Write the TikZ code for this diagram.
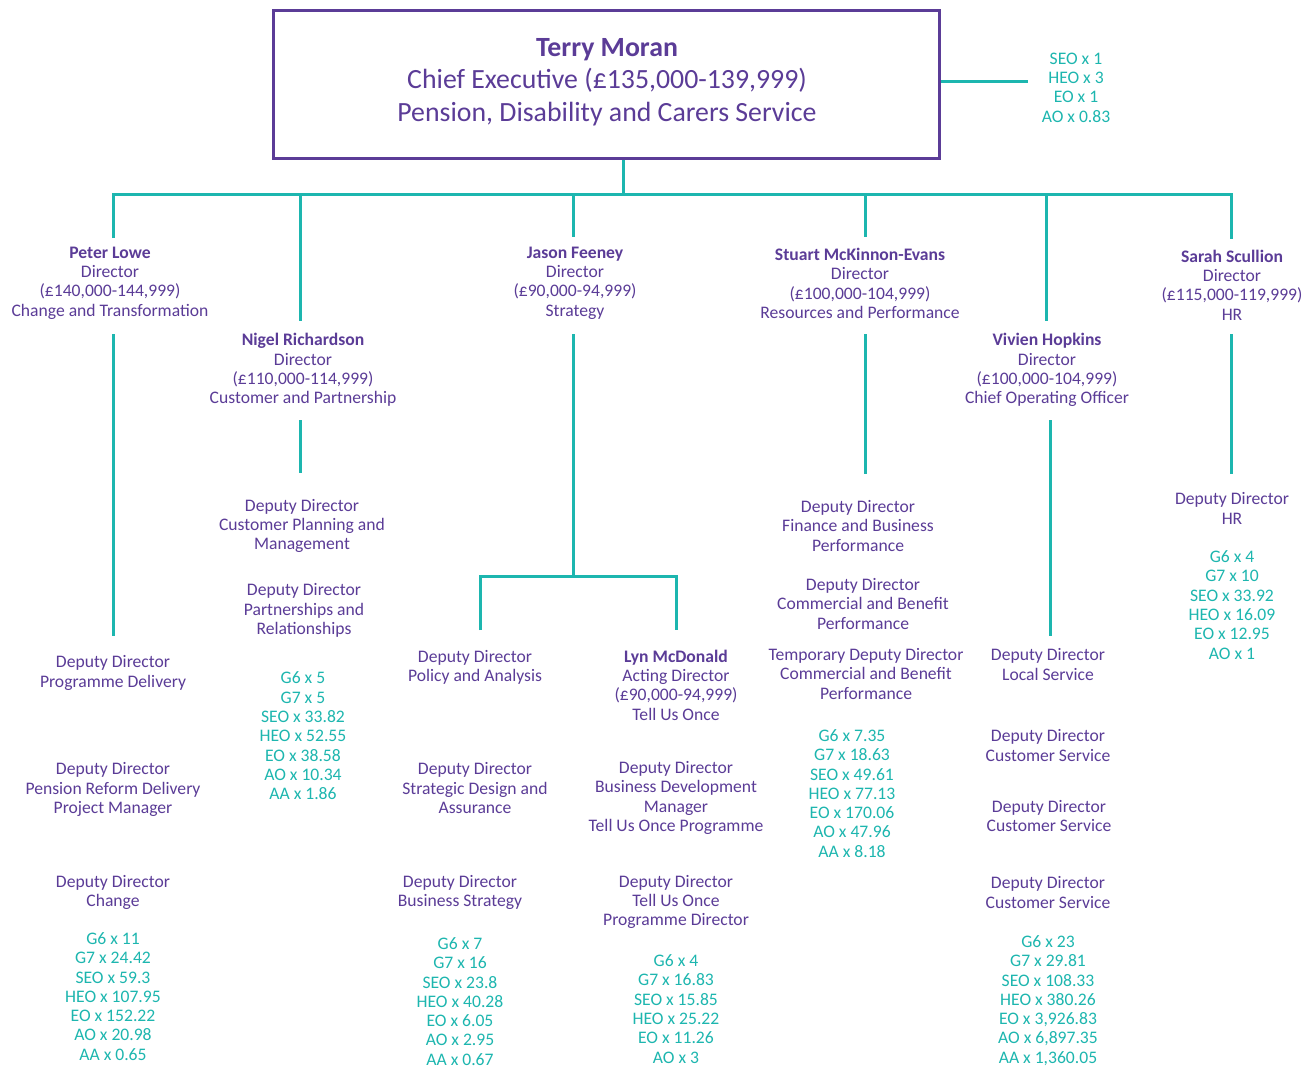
\documentclass[tikz,border=0pt]{standalone}
\usepackage{fontspec}
\setmainfont{Carlito}
\definecolor{dpurple}{HTML}{5B3C97}
\definecolor{dteal}{HTML}{1DB6AF}
\begin{document}
\begin{tikzpicture}[x=1pt,y=-1pt,
  txt/.style={text=dpurple, align=center, inner sep=0pt, yshift=-2pt, font=\fontsize{17.6}{19.3}\selectfont},
  num/.style={text=dteal, align=center, inner sep=0pt, yshift=-2pt, font=\fontsize{17.6}{19.3}\selectfont},
  conn/.style={draw=dteal, line width=3pt},
  ceobox/.style={draw=dpurple, line width=3pt, minimum width=666pt, minimum height=148pt, inner sep=0pt}]
\useasboundingbox[fill=white] (0,0) rectangle (1314,1068);

% CEO
\node[ceobox] (ceo) at (606,84) {};
\node[txt, font=\fontsize{27.8}{32.5}\selectfont] (ceotext) at (607,80)
  {{\bfseries Terry Moran}\\Chief Executive (£135,000-139,999)\\Pension, Disability and Carers Service};
\node[num] (ceostaff) at (1076,85.5) {SEO x 1\\HEO x 3\\EO x 1\\AO x 0.83};
\coordinate (staffend) at (1028,81);
\draw[conn] (ceo.east |- staffend) -- (staffend);

% trunk and bar
\coordinate (trunk) at (623,194);
\draw[conn] (ceo.south -| trunk) -- (trunk);
\coordinate (d1) at (113,238);
\coordinate (d6) at (1231,239);
\draw[conn] (d1) -- (113,194) -- (1231,194) -- (d6);
\coordinate (d2) at (300,321);
\coordinate (d3) at (573,237);
\coordinate (d4) at (865,237);
\coordinate (d5) at (1046,321);
\draw[conn] (d2 |- trunk) -- (d2);
\draw[conn] (d3 |- trunk) -- (d3);
\draw[conn] (d4 |- trunk) -- (d4);
\draw[conn] (d5 |- trunk) -- (d5);

% Directors
\node[txt] (peter) at (110,281) {{\bfseries Peter Lowe}\\Director\\(£140,000-144,999)\\Change and Transformation};
\node[txt] (nigel) at (303,368) {{\bfseries Nigel Richardson}\\Director\\(£110,000-114,999)\\Customer and Partnership};
\node[txt] (jason) at (575,281) {{\bfseries Jason Feeney}\\Director\\(£90,000-94,999)\\Strategy};
\node[txt] (stuart) at (860,281.5) {{\bfseries Stuart McKinnon-Evans}\\Director\\(£100,000-104,999)\\Resources and Performance};
\node[txt] (vivien) at (1047,368) {{\bfseries Vivien Hopkins}\\Director\\(£100,000-104,999)\\Chief Operating Officer};
\node[txt] (sarah) at (1232,283) {{\bfseries Sarah Scullion}\\Director\\(£115,000-119,999)\\HR};

% Peter column
\coordinate (p1) at (113,334); \coordinate (p2) at (113,636);
\draw[conn] (p1) -- (p2);
\node[txt] (ppd) at (113,671) {Deputy Director\\Programme Delivery};
\node[txt] (prd) at (113,787.5) {Deputy Director\\Pension Reform Delivery\\Project Manager};
\node[txt] (pch) at (113,890.5) {Deputy Director\\Change};
\node[num] (pnum) at (113,994.5) {G6 x 11\\G7 x 24.42\\SEO x 59.3\\HEO x 107.95\\EO x 152.22\\AO x 20.98\\AA x 0.65};

% Nigel column
\coordinate (n1) at (300,420); \coordinate (n2) at (300,473);
\draw[conn] (n1) -- (n2);
\node[txt] (ncp) at (302,524) {Deputy Director\\Customer Planning and\\Management};
\node[txt] (npr) at (304,608.5) {Deputy Director\\Partnerships and\\Relationships};
\node[num] (nnum) at (303,734) {G6 x 5\\G7 x 5\\SEO x 33.82\\HEO x 52.55\\EO x 38.58\\AO x 10.34\\AA x 1.86};

% Jason column
\coordinate (j1) at (573,334); \coordinate (j2) at (573,576);
\draw[conn] (j1) -- (j2);
\coordinate (jl) at (480,630); \coordinate (jr) at (676,630);
\draw[conn] (jl) -- (480,576) -- (676,576) -- (jr);
\node[txt] (jpa) at (475,665.5) {Deputy Director\\Policy and Analysis};
\node[txt] (jsd) at (475,786) {Deputy Director\\Strategic Design and\\Assurance};
\node[txt] (jbs) at (460,890.5) {Deputy Director\\Business Strategy};
\node[num] (jnum) at (460,999.5) {G6 x 7\\G7 x 16\\SEO x 23.8\\HEO x 40.28\\EO x 6.05\\AO x 2.95\\AA x 0.67};
\node[txt] (lyn) at (676,683) {{\bfseries Lyn McDonald}\\Acting Director\\(£90,000-94,999)\\Tell Us Once};
\node[txt] (jbd) at (676,796) {Deputy Director\\Business Development\\Manager\\Tell Us Once Programme};
\node[txt] (jtu) at (676,900) {Deputy Director\\Tell Us Once\\Programme Director};
\node[num] (lnum) at (676,1007) {G6 x 4\\G7 x 16.83\\SEO x 15.85\\HEO x 25.22\\EO x 11.26\\AO x 3};

% Stuart column
\coordinate (s1) at (865,334); \coordinate (s2) at (865,474);
\draw[conn] (s1) -- (s2);
\node[txt] (sfb) at (858,524) {Deputy Director\\Finance and Business\\Performance};
\node[txt] (scb) at (863,602) {Deputy Director\\Commercial and Benefit\\Performance};
\node[txt] (stc) at (866,672) {Temporary Deputy Director\\Commercial and Benefit\\Performance};
\node[num] (snum) at (852,791.5) {G6 x 7.35\\G7 x 18.63\\SEO x 49.61\\HEO x 77.13\\EO x 170.06\\AO x 47.96\\AA x 8.18};

% Vivien column
\coordinate (v1) at (1050,420); \coordinate (v2) at (1050,636);
\draw[conn] (v1) -- (v2);
\node[txt] (vls) at (1048,662.5) {Deputy Director\\Local Service};
\node[txt] (vcs1) at (1048,743.5) {Deputy Director\\Customer Service};
\node[txt] (vcs2) at (1049,814) {Deputy Director\\Customer Service};
\node[txt] (vcs3) at (1048,890.5) {Deputy Director\\Customer Service};
\node[num] (vnum) at (1048,998.5) {G6 x 23\\G7 x 29.81\\SEO x 108.33\\HEO x 380.26\\EO x 3,926.83\\AO x 6,897.35\\AA x 1,360.05};

% Sarah column
\coordinate (h1) at (1231,334); \coordinate (h2) at (1231,474);
\draw[conn] (h1) -- (h2);
\node[txt] (shr) at (1232,506.5) {Deputy Director\\HR};
\node[num] (shnum) at (1232,603) {G6 x 4\\G7 x 10\\SEO x 33.92\\HEO x 16.09\\EO x 12.95\\AO x 1};
\end{tikzpicture}
\end{document}
